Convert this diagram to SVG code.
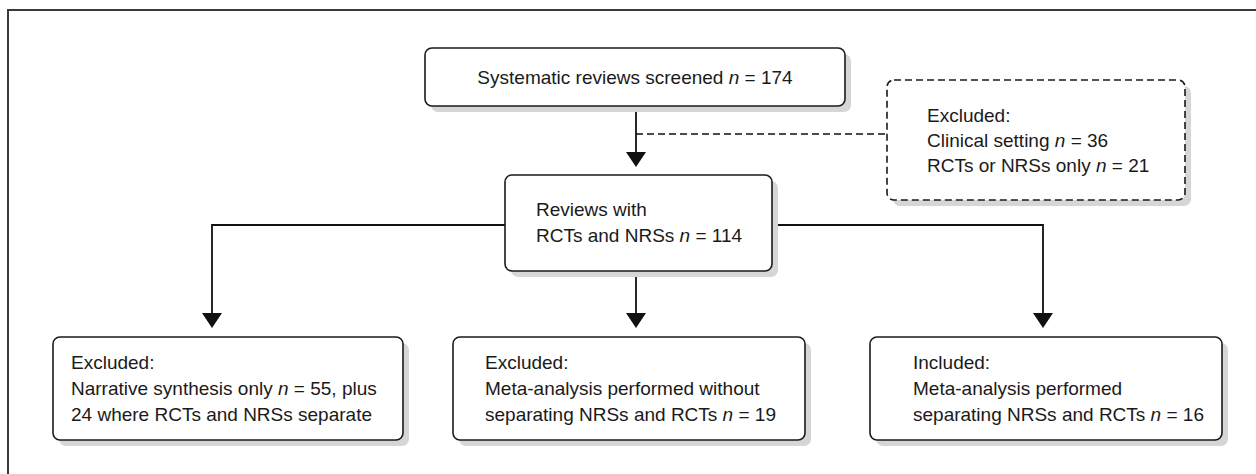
<svg xmlns="http://www.w3.org/2000/svg" width="1256" height="474" viewBox="0 0 1256 474">
  <defs>
    <style>
      .box { fill: #ffffff; stroke: #1a1a1a; stroke-width: 1.6; }
      .dbox { fill: #ffffff; stroke: #1a1a1a; stroke-width: 1.6; stroke-dasharray: 7 4; }
      .shadow { fill: #d6d6d6; stroke: none; }
      .txt { font-family: "Liberation Sans", Arial, sans-serif; font-size: 19px; fill: #1a1a1a; }
      .it { font-style: italic; }
      .line { fill: none; stroke: #111111; stroke-width: 1.8; }
      .dline { fill: none; stroke: #111111; stroke-width: 1.6; stroke-dasharray: 7 4; }
      .frame { fill: none; stroke: #3a3a3a; stroke-width: 2; }
    </style>
    <marker id="arrow" viewBox="0 0 20 16" refX="10" refY="16" markerWidth="20" markerHeight="16" markerUnits="userSpaceOnUse" orient="auto-start-reverse">
      <path d="M0,0 L20,0 L10,16 Z" fill="#111111"/>
    </marker>
  </defs>

  <rect width="1256" height="474" fill="#ffffff"/>
  <path class="frame" d="M8,474 L8,10 L1256,10"/>

  <g id="connectors">
    <line class="line" x1="636" y1="106" x2="636" y2="152"/>
    <path d="M626,152 L646,152 L636,167 Z" fill="#111111"/>
    <line class="dline" x1="636" y1="134" x2="887" y2="134"/>
    <line class="line" x1="636" y1="271" x2="636" y2="313"/>
    <path d="M626,313 L646,313 L636,328 Z" fill="#111111"/>
    <path class="line" d="M505,225 L212,225 L212,313"/>
    <path d="M202,313 L222,313 L212,328 Z" fill="#111111"/>
    <path class="line" d="M772,225 L1043,225 L1043,313"/>
    <path d="M1033,313 L1053,313 L1043,328 Z" fill="#111111"/>
  </g>

  <g id="node-screened">
    <rect class="shadow" x="431" y="54" width="420" height="58" rx="7"/>
    <rect class="box" x="425" y="48" width="420" height="58" rx="7"/>
    <text class="txt" x="635" y="84" text-anchor="middle">Systematic reviews screened <tspan class="it">n</tspan> = 174</text>
  </g>

  <g id="node-excluded-top">
    <rect class="shadow" x="893" y="86" width="298" height="120" rx="7"/>
    <rect class="dbox" x="887" y="80" width="298" height="120" rx="7"/>
    <text class="txt" x="927" y="122">Excluded:</text>
    <text class="txt" x="927" y="147">Clinical setting <tspan class="it">n</tspan> = 36</text>
    <text class="txt" x="927" y="172">RCTs or NRSs only <tspan class="it">n</tspan> = 21</text>
  </g>

  <g id="node-reviews">
    <rect class="shadow" x="511" y="181" width="267" height="96" rx="7"/>
    <rect class="box" x="505" y="175" width="267" height="96" rx="7"/>
    <text class="txt" x="536" y="216">Reviews with</text>
    <text class="txt" x="536" y="242">RCTs and NRSs <tspan class="it">n</tspan> = 114</text>
  </g>

  <g id="node-narrative">
    <rect class="shadow" x="59" y="343" width="350" height="103" rx="7"/>
    <rect class="box" x="53" y="337" width="350" height="103" rx="7"/>
    <text class="txt" x="71" y="369">Excluded:</text>
    <text class="txt" x="71" y="395">Narrative synthesis only <tspan class="it">n</tspan> = 55, plus</text>
    <text class="txt" x="71" y="421">24 where RCTs and NRSs separate</text>
  </g>

  <g id="node-meta-without">
    <rect class="shadow" x="459" y="343" width="352" height="103" rx="7"/>
    <rect class="box" x="453" y="337" width="352" height="103" rx="7"/>
    <text class="txt" x="485" y="369">Excluded:</text>
    <text class="txt" x="485" y="395">Meta-analysis performed without</text>
    <text class="txt" x="485" y="421">separating NRSs and RCTs <tspan class="it">n</tspan> = 19</text>
  </g>

  <g id="node-included">
    <rect class="shadow" x="876" y="343" width="352" height="103" rx="7"/>
    <rect class="box" x="870" y="337" width="352" height="103" rx="7"/>
    <text class="txt" x="913" y="369">Included:</text>
    <text class="txt" x="913" y="395">Meta-analysis performed</text>
    <text class="txt" x="913" y="421">separating NRSs and RCTs <tspan class="it">n</tspan> = 16</text>
  </g>
</svg>
